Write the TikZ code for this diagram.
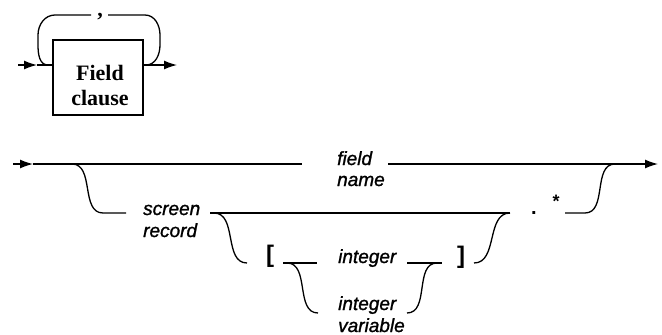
\documentclass[tikz,border=0pt]{standalone}
\usepackage{fontspec}
\usetikzlibrary{arrows.meta}
\newfontfamily\labfont[ItalicFeatures={FakeBold=1.2}]{Liberation Sans}
\newfontfamily\boxfont{Liberation Serif}
\begin{document}
\begin{tikzpicture}[x=1pt,y=-1pt,
  rail/.style={line width=1.3pt},
  tipped/.style={rail,-{Latex[length=13pt,width=9pt]}},
  lab/.style={font=\labfont\itshape\fontsize{19}{22}\selectfont,inner sep=0pt,anchor=base west},
  sym/.style={font=\labfont\bfseries\fontsize{24}{26}\selectfont,inner sep=0pt,anchor=base},
  boxtxt/.style={font=\boxfont\bfseries\fontsize{22}{25}\selectfont,inner sep=0pt,anchor=base}]
\useasboundingbox (0,0) rectangle (662,335);

% ---------- Field clause with its comma loop ----------
\node[draw,line width=1.3pt,minimum width=90pt,minimum height=75pt,inner sep=0pt] (fc) at (98,77.5) {};
\node[boxtxt] (fcA) at (100,80) {Field};
\node[boxtxt] (fcB) at (100,105) {clause};
\node[boxtxt,text height=4pt] (comma) at (100,16) {,};

\coordinate (t0) at (18,65);
\coordinate (t1) at (37,65);
\coordinate (tj) at (48,65);
\coordinate (tk) at (146,65);
\coordinate (t2) at (177,65);
\draw[tipped] (t0) -- (t1);
\draw[rail] (t1) -- (fc.west |- t1);
\draw[tipped] (fc.east |- t2) -- (t2);
\draw[rail] (tj) to[out=180,in=-90] (38,45) -- (38,35) to[out=90,in=180] (55,15) -- (91,15);
\draw[rail] (tk) to[out=0,in=-90] (160,45) -- (160,35) to[out=90,in=0] (145,15) -- (108,15);

% ---------- main rail ----------
\coordinate (m0) at (13,164);
\coordinate (m1) at (33,164);
\coordinate (m2) at (302,164);
\coordinate (m3) at (388,164);
\coordinate (m4) at (658,164);
\draw[tipped] (m0) -- (m1);
\draw[rail] (m1) -- (m2);
\draw[tipped] (m3) -- (m4);
\node[lab] (fieldA) at (337,165) {field};
\node[lab] (fieldB) at (337,186) {name};

% ---------- screen record branch ----------
\coordinate (r0) at (72,164);
\coordinate (r1) at (103,213);
\coordinate (r2) at (126,213);
\draw[rail] (r0) to[out=0,in=180] (r1) -- (r2);
\node[lab] (scrA) at (143,215) {screen};
\node[lab] (scrB) at (143,237) {record};

\coordinate (s1) at (210,213);
\coordinate (s2) at (510,213);
\draw[rail] (s1) -- (s2);

% subscript branch
\coordinate (u0) at (214,213);
\coordinate (u1) at (247,263);
\draw[rail] (u0) to[out=0,in=180] (u1);
\node[sym] (lbr) at (270,262) {[};
\coordinate (v0) at (283,263);
\coordinate (v1) at (317,263);
\draw[rail] (v0) -- (v1);
\node[lab] (intA) at (338,263) {integer};
\coordinate (v2) at (407,263);
\coordinate (v3) at (442,263);
\draw[rail] (v2) -- (v3);

% integer variable alternative
\coordinate (w0) at (287,263);
\coordinate (w1) at (318,313);
\draw[rail] (w0) to[out=0,in=180] (w1);
\node[lab] (ivA) at (338,310) {integer};
\node[lab] (ivB) at (338,332) {variable};
\coordinate (w2) at (407,313);
\coordinate (w3) at (437,263);
\draw[rail] (w2) to[out=0,in=180] (w3);

\node[sym] (rbr) at (461,263) {]};
\coordinate (x0) at (474,263);
\draw[rail] (x0) to[out=0,in=180] (s2);

% .* suffix and return to main rail
\node[sym,font=\labfont\bfseries\fontsize{20}{22}\selectfont] (dot) at (534,214) {.};
\node[font=\labfont\bfseries\fontsize{18}{20}\selectfont,inner sep=0pt,anchor=base] (star) at (556,207) {*};
\coordinate (y0) at (565,213);
\coordinate (y1) at (585,213);
\coordinate (y2) at (615,164);
\draw[rail] (y0) -- (y1) to[out=0,in=180] (y2);
\end{tikzpicture}
\end{document}
